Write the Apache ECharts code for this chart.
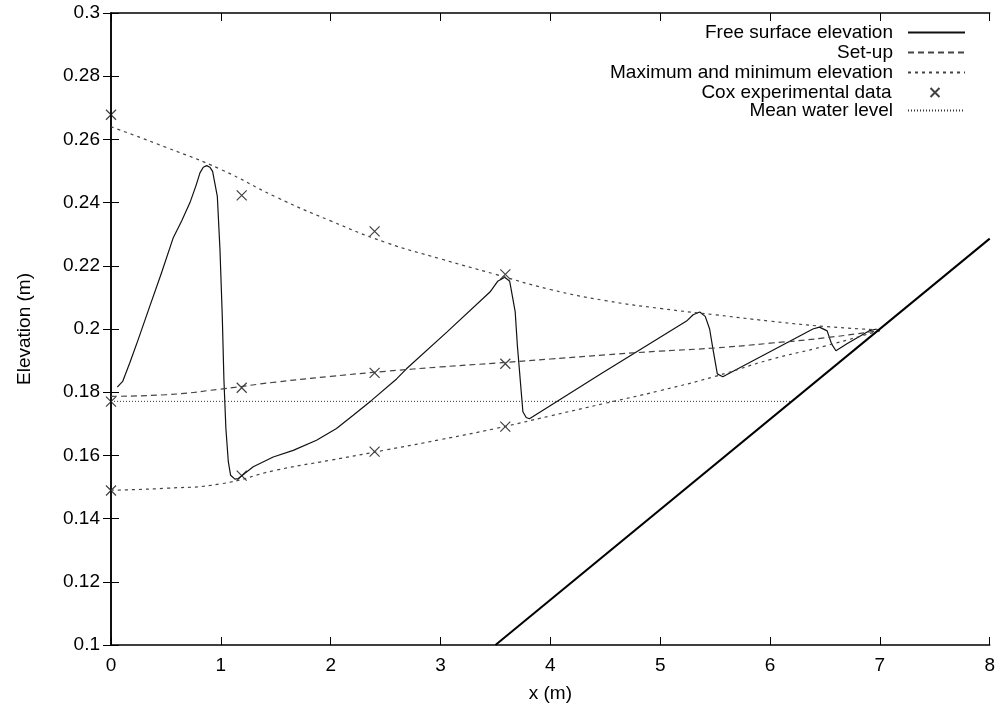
<!DOCTYPE html>
<html>
<head>
<meta charset="utf-8">
<script src="https://cdn.jsdelivr.net/npm/echarts@6/dist/echarts.min.js"></script>
<style>
  html, body { margin: 0; padding: 0; background: #fff; }
  #main { width: 998px; height: 708px; }
</style>
</head>
<body>
<div id="main"></div>
<script>
// free surface snapshot
var surfaceX = [0.057, 0.106, 0.173, 0.249, 0.355, 0.461, 0.567, 0.643, 0.719, 0.773, 0.810, 0.840, 0.871, 0.900, 0.925, 0.968, 0.992, 1.013, 1.028, 1.046, 1.068, 1.089, 1.128, 1.159, 1.295, 1.477, 1.659, 1.871, 2.053, 2.205, 2.372, 2.600, 2.690, 3.060, 3.450, 3.520, 3.585, 3.630, 3.680, 3.700, 3.750, 3.780, 3.810, 4.450, 5.240, 5.300, 5.360, 5.410, 5.450, 5.480, 5.520, 5.570, 6.390, 6.450, 6.520, 6.560, 6.600, 6.700, 6.900, 6.970];
var surfaceY = [0.1816, 0.1834, 0.1895, 0.1968, 0.2074, 0.2179, 0.2289, 0.2342, 0.2400, 0.2453, 0.2494, 0.2512, 0.2517, 0.2512, 0.2499, 0.2420, 0.2252, 0.2042, 0.1840, 0.1685, 0.1580, 0.1537, 0.1525, 0.1527, 0.1564, 0.1595, 0.1616, 0.1648, 0.1685, 0.1727, 0.1774, 0.1842, 0.1874, 0.1991, 0.2117, 0.2151, 0.2164, 0.2151, 0.2054, 0.1946, 0.1738, 0.1720, 0.1716, 0.1856, 0.2025, 0.2045, 0.2054, 0.2040, 0.2000, 0.1937, 0.1858, 0.1849, 0.2000, 0.2006, 0.1994, 0.1953, 0.1931, 0.1953, 0.1994, 0.2000];

// set-up
var setupX = [0, 0.5, 1, 1.5, 2, 2.5, 3, 3.5, 4, 4.5, 5, 5.5, 6, 6.5, 7];
var setupY = [0.1787, 0.1792, 0.1810, 0.1832, 0.1850, 0.1866, 0.1880, 0.1892, 0.1905, 0.1918, 0.1930, 0.1940, 0.1955, 0.1972, 0.1995];

// envelope
var envX = [0, 0.5, 1, 1.5, 2, 2.5, 3, 3.5, 4, 4.5, 5, 5.5, 6, 6.5, 7];
var maxY = [0.2640, 0.2575, 0.2505, 0.2418, 0.2342, 0.2274, 0.2222, 0.2173, 0.2125, 0.2090, 0.2065, 0.2045, 0.2025, 0.2008, 0.1997];
var minY = [0.1490, 0.1496, 0.1510, 0.1553, 0.1585, 0.1617, 0.1650, 0.1685, 0.1725, 0.1765, 0.1805, 0.1850, 0.1903, 0.1946, 0.1995];

// Cox data
var coxX = [0, 1.19, 2.40, 3.59, 0, 1.19, 2.40, 3.59, 0, 1.19, 2.40, 3.59];
var coxY = [0.2678, 0.2423, 0.2309, 0.2173, 0.1770, 0.1814, 0.1861, 0.1890, 0.1489, 0.1536, 0.1612, 0.1691];

var meanX = [0, 6.195];
var meanY = [0.1771, 0.1771];

// beach 1:35
var slopeX = [3.5, 8];
var slopeY = [0.1, 0.2286];

function zip(xs, ys) {
  var out = [];
  for (var i = 0; i < xs.length; i++) out.push([xs[i], ys[i]]);
  return out;
}

var font = 'Liberation Sans, Arial, Helvetica, sans-serif';
var crossPath = 'path://M0,0L10,10M10,0L0,10';

function legendRow(name, top, opts) {
  var l = {
    data: [name],
    orient: 'vertical',
    align: 'right',
    right: 32,
    top: top,
    padding: 0,
    itemWidth: 57,
    itemHeight: 14,
    selectedMode: false,
    itemStyle: { opacity: 0 },
    textStyle: { fontFamily: font, fontSize: 19, color: '#000', padding: [0, 10, 0, 0] }
  };
  for (var k in opts) l[k] = opts[k];
  return l;
}

var myChart = echarts.init(document.getElementById('main'));

var option = {
  backgroundColor: '#fff',
  animation: false,
  legend: [
    legendRow('Free surface elevation', 23),
    legendRow('Set-up', 43),
    legendRow('Maximum and minimum elevation', 63),
    legendRow('Cox experimental data', 83, { itemWidth: 9, itemHeight: 9, right: 56,
      itemStyle: {},
      textStyle: { fontFamily: font, fontSize: 19, color: '#000', padding: [0, 34, 0, 0] } }),
    legendRow('Mean water level', 101)
  ],
  grid: { left: 111, right: 8, top: 13, bottom: 61 },
  xAxis: [
    {
      type: 'value', min: 0, max: 8, interval: 1,
      name: 'x (m)', nameLocation: 'middle', nameGap: 39,
      nameTextStyle: { fontFamily: font, fontSize: 19, color: '#000' },
      axisLine: { lineStyle: { color: '#000', width: 1.5 } },
      axisTick: { inside: true, length: 8, lineStyle: { color: '#000' } },
      axisLabel: { fontFamily: font, fontSize: 19, color: '#000', margin: 11 },
      splitLine: { show: false }
    },
    {
      type: 'value', position: 'top', min: 0, max: 8, interval: 1,
      axisLine: { lineStyle: { color: '#000', width: 1.5 } },
      axisTick: { inside: true, length: 8, lineStyle: { color: '#000' } },
      axisLabel: { show: false },
      splitLine: { show: false }
    }
  ],
  yAxis: [
    {
      type: 'value', min: 0.1, max: 0.3, interval: 0.02,
      name: 'Elevation (m)', nameLocation: 'middle', nameGap: 77,
      nameTextStyle: { fontFamily: font, fontSize: 19, color: '#000' },
      axisLine: { show: true, lineStyle: { color: '#000', width: 1.5 } },
      axisTick: { show: true, inside: true, length: 8, lineStyle: { color: '#000' } },
      axisLabel: {
        fontFamily: font, fontSize: 19, color: '#000', margin: 11,
        formatter: function (v) { return String(+v.toFixed(2)); }
      },
      splitLine: { show: false }
    },
    {
      type: 'value', position: 'right', min: 0.1, max: 0.3, interval: 0.02,
      axisLine: { show: true, lineStyle: { color: '#000', width: 1.5 } },
      axisTick: { show: true, inside: true, length: 8, lineStyle: { color: '#000' } },
      axisLabel: { show: false },
      splitLine: { show: false }
    }
  ],
  series: [
    {
      name: 'Free surface elevation', type: 'line', symbol: 'none',
      data: zip(surfaceX, surfaceY),
      lineStyle: { color: '#111', width: 1.2, type: 'solid' },
      itemStyle: { color: '#111' }
    },
    {
      name: 'Set-up', type: 'line', symbol: 'none', smooth: true,
      data: zip(setupX, setupY),
      lineStyle: { color: '#444', width: 1.2, type: [6, 4] },
      itemStyle: { color: '#444' }
    },
    {
      name: 'Maximum and minimum elevation', type: 'line', symbol: 'none', smooth: true,
      data: zip(envX, maxY),
      lineStyle: { color: '#444', width: 1.2, type: [3, 4] },
      itemStyle: { color: '#444' }
    },
    {
      name: 'Maximum and minimum elevation', type: 'line', symbol: 'none', smooth: true,
      data: zip(envX, minY),
      lineStyle: { color: '#444', width: 1.2, type: [3, 4] },
      itemStyle: { color: '#444' }
    },
    {
      name: 'Cox experimental data', type: 'scatter',
      symbol: crossPath, symbolSize: 10,
      data: zip(coxX, coxY),
      itemStyle: { color: 'none', borderColor: '#111', borderWidth: 1.2 }
    },
    {
      name: 'Mean water level', type: 'line', symbol: 'none',
      data: zip(meanX, meanY),
      lineStyle: { color: '#333', width: 1, type: [1, 2] },
      itemStyle: { color: '#333' }
    },
    {
      name: 'beach', type: 'line', symbol: 'none',
      data: zip(slopeX, slopeY),
      lineStyle: { color: '#000', width: 2 },
      itemStyle: { color: '#000' }
    }
  ]
};

myChart.setOption(option);
window.addEventListener('resize', function () { myChart.resize(); });
</script>
</body>
</html>
